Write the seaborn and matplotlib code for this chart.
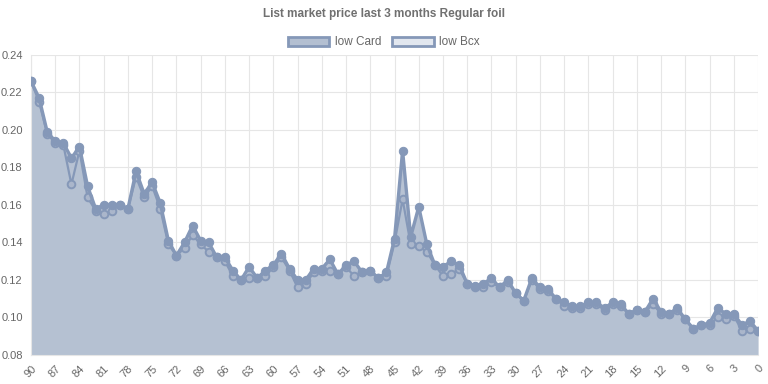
import numpy as np
import pandas as pd
import matplotlib
matplotlib.use("Agg")
import matplotlib.pyplot as plt
import matplotlib.patches as mpatches
import seaborn as sns

# days ago, 90 -> 0
days = list(range(90, -1, -1))

low_card = [0.226, 0.217, 0.199, 0.194, 0.193, 0.185, 0.191, 0.170, 0.158, 0.160,
            0.160, 0.160, 0.158, 0.178, 0.166, 0.172, 0.161, 0.141, 0.133, 0.140,
            0.149, 0.141, 0.140, 0.132, 0.132, 0.125, 0.120, 0.127, 0.121, 0.125,
            0.128, 0.134, 0.126, 0.120, 0.120, 0.126, 0.126, 0.131, 0.123, 0.128,
            0.130, 0.124, 0.125, 0.121, 0.124, 0.142, 0.189, 0.143, 0.159, 0.139,
            0.128, 0.127, 0.130, 0.128, 0.118, 0.117, 0.118, 0.121, 0.116, 0.120,
            0.113, 0.109, 0.121, 0.116, 0.115, 0.110, 0.108, 0.106, 0.106, 0.108,
            0.108, 0.105, 0.108, 0.107, 0.102, 0.104, 0.103, 0.110, 0.103, 0.102,
            0.105, 0.099, 0.094, 0.096, 0.097, 0.105, 0.102, 0.102, 0.096, 0.098,
            0.093]

low_bcx = [0.226, 0.215, 0.198, 0.193, 0.192, 0.171, 0.189, 0.164, 0.157, 0.155,
           0.157, 0.160, 0.158, 0.175, 0.164, 0.170, 0.158, 0.139, 0.133, 0.137,
           0.144, 0.139, 0.135, 0.132, 0.130, 0.122, 0.120, 0.121, 0.121, 0.122,
           0.127, 0.132, 0.125, 0.116, 0.118, 0.124, 0.125, 0.125, 0.123, 0.127,
           0.122, 0.124, 0.125, 0.121, 0.122, 0.140, 0.163, 0.139, 0.138, 0.135,
           0.128, 0.122, 0.123, 0.126, 0.118, 0.116, 0.116, 0.119, 0.116, 0.119,
           0.113, 0.109, 0.120, 0.115, 0.114, 0.110, 0.106, 0.105, 0.105, 0.107,
           0.107, 0.104, 0.107, 0.106, 0.102, 0.104, 0.103, 0.107, 0.102, 0.102,
           0.104, 0.099, 0.094, 0.096, 0.096, 0.100, 0.099, 0.101, 0.093, 0.094,
           0.093]

y_ticks = [0.08, 0.10, 0.12, 0.14, 0.16, 0.18, 0.20, 0.22, 0.24]

df = pd.DataFrame({"day": days, "low Card": low_card, "low Bcx": low_bcx})

line_col = "#8598b8"
card_fill = "#b3bfd1"
bcx_fill = "#e2e7ef"
bcx_marker = "#aab6cb"
text_col = "#666666"
grid_col = "#e6e6e6"

sns.set_theme(style="white")
plt.rcParams["font.family"] = ["Liberation Sans", "DejaVu Sans"]

fig = plt.figure(figsize=(7.68, 3.84), dpi=100)
ax = fig.add_axes([0.0404, 0.0755, 0.9466, 0.7815])

ax.fill_between(df["day"], 0.08, df["low Bcx"], color=bcx_fill, zorder=1, lw=0)
ax.fill_between(df["day"], 0.08, df["low Card"], color=card_fill, alpha=0.95, zorder=1.5, lw=0)

sns.lineplot(data=df, x="day", y="low Bcx", ax=ax, color=line_col, lw=1.6,
             marker="o", markersize=5.5, markeredgecolor=line_col,
             markeredgewidth=1.4, zorder=3)
sns.lineplot(data=df, x="day", y="low Card", ax=ax, color=line_col, lw=2.4,
             marker="o", markersize=6, markerfacecolor=line_col,
             markeredgecolor=line_col, zorder=4)
# hollow-looking markers for the Bcx line
ax.lines[0].set_markerfacecolor(bcx_marker)

ax.set_xlim(90, 0)
ax.set_ylim(0.08, 0.24)
ax.set_xticks(days[::3])
ax.set_xticklabels([str(d) for d in days[::3]], rotation=45, ha="right",
                   rotation_mode="anchor")
ax.set_yticks(y_ticks)
ax.set_yticklabels([f"{t:.2f}" for t in y_ticks])
ax.tick_params(axis="both", labelsize=8, length=4, width=0.8,
               direction="out", pad=2, colors=grid_col, labelcolor=text_col)
ax.grid(True, color=grid_col, lw=0.8)
ax.set_xlabel("")
ax.set_ylabel("")
for s in ["top", "right"]:
    ax.spines[s].set_visible(False)
for s in ["left", "bottom"]:
    ax.spines[s].set_color(grid_col)
    ax.spines[s].set_linewidth(0.8)

fig.text(0.5, 0.963, "List market price last 3 months Regular foil",
         ha="center", va="center", fontsize=8.5, fontweight="bold", color="#707070")

handles = [
    mpatches.Patch(facecolor=card_fill, edgecolor=line_col, lw=2, label="low Card"),
    mpatches.Patch(facecolor=bcx_fill, edgecolor=line_col, lw=2, label="low Bcx"),
]
fig.legend(handles=handles, loc="center", bbox_to_anchor=(0.5, 0.89), ncol=2,
           frameon=False, fontsize=8.5, labelcolor=text_col, handlelength=3.5,
           handleheight=0.8, handletextpad=0.5, columnspacing=0.9)

fig.savefig("out.png", dpi=100)
